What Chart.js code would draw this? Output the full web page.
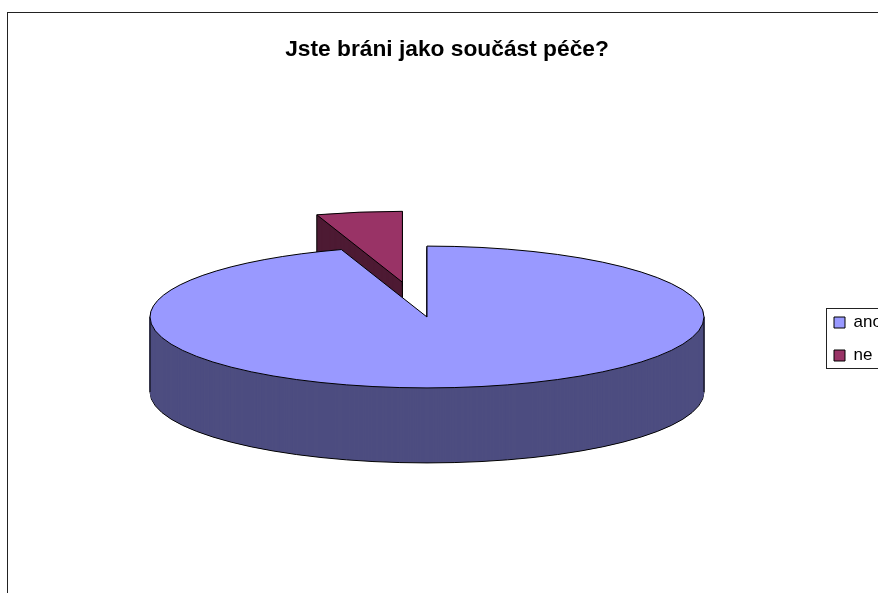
<!DOCTYPE html>
<html>
<head>
<meta charset="utf-8">
<title>Jste bráni jako součást péče?</title>
<style>
    html, body { margin: 0; padding: 0; width: 878px; height: 593px; overflow: hidden; background: #fff; }
    #frame { position: absolute; left: 7px; top: 12px; width: 890px; height: 670px; border: 1px solid #222; }
    #chart { display: block; }
</style>
</head>
<body>
<div id="frame"><canvas id="chart" width="878" height="652"></canvas></div>
<script src="https://cdn.jsdelivr.net/npm/chart.js@4"></script>
<script>
const CATEGORIES = ['ano', 'ne'];
const VALUES = [95, 5];
const TOP_COLORS = ['#9999FF', '#993366'];
const SIDE_COLORS = ['#4D4D80', '#4D1A33'];
const EXPLODE = [0, 138];

const PIE_X = 419;
const PIE_Y = 304;
const PIE_RADIUS = 277;
const SQUASH = 0.256;
const DEPTH = 75;
const EXPLODE_TILT = -0.022;

function sliceTip(arc) {
    const dir = (arc.startAngle + arc.endAngle) / 2 + EXPLODE_TILT;
    const off = arc.options.offset || 0;
    return { x: Math.cos(dir) * off, y: Math.sin(dir) * off };
}

function tracePath(ctx, arc, lift) {
    const tip = sliceTip(arc);
    ctx.save();
    ctx.translate(PIE_X, PIE_Y + lift);
    ctx.scale(1, SQUASH);
    ctx.beginPath();
    ctx.moveTo(tip.x, tip.y);
    ctx.arc(tip.x, tip.y, arc.outerRadius, arc.startAngle, arc.endAngle);
    ctx.closePath();
    ctx.restore();
}

function drawEdge(ctx, arc, angle, radius) {
    const tip = sliceTip(arc);
    const x = PIE_X + tip.x + Math.cos(angle) * radius;
    const y = PIE_Y + (tip.y + Math.sin(angle) * radius) * SQUASH;
    ctx.beginPath();
    ctx.moveTo(x, y);
    ctx.lineTo(x, y + DEPTH);
    ctx.stroke();
}

function spans(arc, angle) {
    const a = angle < arc.startAngle ? angle + Math.PI * 2 : angle;
    return a <= arc.endAngle;
}

// squashed pie with a side wall, "ne" goes first so the big slice covers it
const pie3d = {
    id: 'pie3d',
    beforeDatasetsDraw(chart) {
        const ctx = chart.ctx;
        const arcs = chart.getDatasetMeta(0).data;
        ctx.save();
        ctx.lineWidth = 1;
        for (let i = arcs.length - 1; i >= 0; i--) {
            const arc = arcs[i];
            tracePath(ctx, arc, DEPTH);
            ctx.fillStyle = SIDE_COLORS[i];
            ctx.strokeStyle = '#000';
            ctx.fill();
            ctx.stroke();
            ctx.strokeStyle = SIDE_COLORS[i];
            for (let d = DEPTH - 1; d > 0; d--) {
                tracePath(ctx, arc, d);
                ctx.fill();
                if (d < DEPTH - 1) ctx.stroke();
            }
            ctx.strokeStyle = '#000';
            drawEdge(ctx, arc, arc.startAngle, arc.outerRadius);
            drawEdge(ctx, arc, arc.endAngle, arc.outerRadius);
            if (arc.options.offset) drawEdge(ctx, arc, 0, 0);
            [0, Math.PI].forEach(a => {
                if (spans(arc, a)) drawEdge(ctx, arc, a, arc.outerRadius);
            });
            tracePath(ctx, arc, 0);
            ctx.fillStyle = TOP_COLORS[i];
            ctx.fill();
            ctx.stroke();
        }
        ctx.restore();
        return false;
    },
    afterDraw(chart) {
        const boxes = chart.legend.legendHitBoxes;
        const ctx = chart.ctx;
        const left = boxes[0].left - 8;
        const top = boxes[0].top - 6;
        const bottom = boxes[1].top + boxes[1].height + 4;
        ctx.save();
        ctx.strokeStyle = '#222';
        ctx.lineWidth = 1;
        ctx.strokeRect(Math.round(left) + 0.5, Math.round(top) + 0.5, 100, Math.round(bottom - top));
        ctx.restore();
    }
};

new Chart(document.getElementById('chart'), {
    type: 'pie',
    data: {
        labels: CATEGORIES,
        datasets: [{
            data: VALUES,
            backgroundColor: TOP_COLORS,
            borderColor: '#000',
            borderWidth: 1,
            offset: EXPLODE
        }]
    },
    options: {
        responsive: false,
        animation: false,
        events: [],
        radius: PIE_RADIUS,
        plugins: {
            title: {
                display: true,
                text: 'Jste bráni jako součást péče?',
                color: '#000',
                font: { family: "'Liberation Sans', Arial, sans-serif", size: 22.75, weight: 'bold' },
                padding: { top: 23, bottom: 10 }
            },
            legend: {
                position: 'right',
                maxWidth: 68,
                labels: {
                    color: '#000',
                    boxWidth: 11,
                    boxHeight: 11,
                    padding: 16,
                    font: { family: "'Liberation Sans', Arial, sans-serif", size: 17 }
                }
            },
            tooltip: { enabled: false }
        }
    },
    plugins: [pie3d]
});
</script>
</body>
</html>
